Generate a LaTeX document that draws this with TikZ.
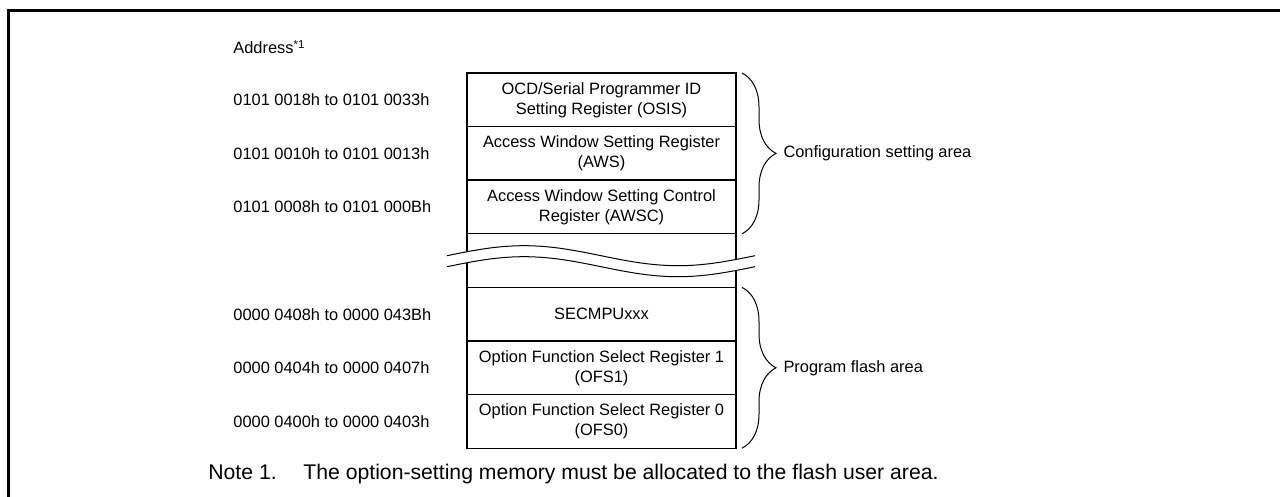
\documentclass[tikz,border=0pt]{standalone}
\usepackage{fontspec}
\setmainfont{Liberation Sans}
\usepackage{tikz}
\usetikzlibrary{positioning}
\usetikzlibrary{decorations.pathreplacing}

\begin{document}
\begin{tikzpicture}[x=0.5pt, y=-0.5pt,
	reg/.style={draw, line width=0.7pt, minimum width=134.5pt, minimum height=26.8pt, inner sep=0pt, outer sep=0pt, align=center, font=\fontsize{8.2pt}{10pt}\selectfont},
	addr/.style={anchor=west, inner sep=0pt, font=\fontsize{8.2pt}{10pt}\selectfont},
	note/.style={anchor=base west, inner sep=0pt, font=\fontsize{10.6pt}{12pt}\selectfont},
	area/.style={decorate, decoration={brace, amplitude=17pt}, line width=0.5pt}]
	\useasboundingbox (0,0) rectangle (1280,497);
	% Frame
	\draw [line width=1.5pt] (8.5,520) -- (8.5,10.5) -- (1300,10.5);

	% Registers, top to bottom
	\node [reg] at (601.5,99.8) (1OSIS) {OCD/Serial Programmer ID\\Setting Register (OSIS)};
	\node [reg, below=0pt of 1OSIS] (2AWS) {Access Window Setting Register\\(AWS)};
	\node [reg, below=0pt of 2AWS] (3AWSC) {Access Window Setting Control\\Register (AWSC)};
	\node [reg, below=0pt of 3AWSC] (4gap) {};
	\node [reg, below=0pt of 4gap] (5SECMPU) {SECMPUxxx};
	\node [reg, below=0pt of 5SECMPU] (6OFS1) {Option Function Select Register 1\\(OFS1)};
	\node [reg, below=0pt of 6OFS1] (7OFS0) {Option Function Select Register 0\\(OFS0)};

	% Addresses
	\coordinate (addrx) at (233,0);
	\node [addr] at (233,47) (0addr) {Address\textsuperscript{*1}};
	\node [addr] at (addrx |- 1OSIS) (1addr) {0101 0018h to 0101 0033h};
	\node [addr] at (addrx |- 2AWS) (2addr) {0101 0010h to 0101 0013h};
	\node [addr] at (addrx |- 3AWSC) (3addr) {0101 0008h to 0101 000Bh};
	\node [addr] at (addrx |- 5SECMPU) (5addr) {0000 0408h to 0000 043Bh};
	\node [addr] at (addrx |- 6OFS1) (6addr) {0000 0404h to 0000 0407h};
	\node [addr] at (addrx |- 7OFS0) (7addr) {0000 0400h to 0000 0403h};

	% Break in the map
	\fill [white] plot [domain=0:308, samples=80] (\x+447, {255.7-10*sin(1.16883*\x)}) -- plot [domain=308:0, samples=80] (\x+447, {266.7-10*sin(1.16883*\x)}) -- cycle;
	\draw [line width=0.5pt] plot [domain=0:308, samples=80] (\x+447, {255.7-10*sin(1.16883*\x)});
	\draw [line width=0.5pt] plot [domain=0:308, samples=80] (\x+447, {266.7-10*sin(1.16883*\x)});

	% Areas
	\draw [area] ([xshift=3pt]1OSIS.north east) -- ([xshift=3pt]3AWSC.south east) node [midway, right=20.5pt, addr] (cfgarea) {Configuration setting area};
	\draw [area] ([xshift=3pt]5SECMPU.north east) -- ([xshift=3pt]7OFS0.south east) node [midway, right=20.5pt, addr] (pfarea) {Program flash area};

	% Note
	\node [note] at (208,479) (note1) {Note 1.};
	\node [note] at (303,479) (note1text) {The option-setting memory must be allocated to the flash user area.};
\end{tikzpicture}
\end{document}
